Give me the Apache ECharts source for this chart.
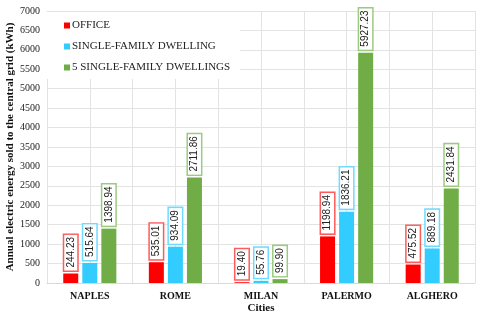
<!DOCTYPE html>
<html>
<head>
<meta charset="utf-8">
<script src="https://cdn.jsdelivr.net/npm/echarts@6/dist/echarts.min.js"></script>
<style>html,body{margin:0;padding:0;background:#fff}#c{width:480px;height:316px}</style>
</head>
<body>
<div id="c"></div>
<script>
var categories = ['NAPLES', 'ROME', 'MILAN', 'PALERMO', 'ALGHERO'];
var seriesNames = ['OFFICE', 'SINGLE-FAMILY DWELLING', '5 SINGLE-FAMILY DWELLINGS'];
var office = [244.23, 535.01, 19.40, 1198.94, 475.52];
var singleFamily = [515.64, 934.09, 55.76, 1836.21, 889.18];
var fiveSingleFamily = [1398.94, 2711.86, 99.90, 5927.23, 2431.84];
var yTicks = [0, 500, 1000, 1500, 2000, 2500, 3000, 3500, 4000, 4500, 5000, 5500, 6000, 6500, 7000];

var colors = ['#FF0000', '#33CCFF', '#70AD47'];
var labelBorders = ['#FF5B5B', '#6FDBFF', '#9CCB80'];
var serif = '"Liberation Serif", "Times New Roman", serif';

function mkSeries(name, data, i) {
  return {
    name: name, type: 'bar', data: data,
    barWidth: 15, barGap: '27%',
    itemStyle: { color: colors[i] },
    label: {
      show: true, position: 'top', rotate: 90, align: 'left', verticalAlign: 'middle',
      distance: 3,
      formatter: function (p) { return p.value.toFixed(2); },
      fontFamily: '"Liberation Sans", Arial, sans-serif', fontSize: 10, color: '#222',
      backgroundColor: '#fff', borderColor: labelBorders[i], borderWidth: 1.5,
      padding: [2, 2, 1, 3]
    }
  };
}

var chart = echarts.init(document.getElementById('c'));
chart.setOption({
  animation: false,
  backgroundColor: '#fff',
  grid: { left: 47, right: 5, top: 11, bottom: 33, outerBoundsMode: 'none', containLabel: false },
  legend: {
    orient: 'vertical', left: 47, top: 12,
    data: seriesNames,
    icon: 'rect', itemWidth: 6, itemHeight: 6, itemGap: 10,
    backgroundColor: '#fff',
    padding: [8, 10, 6, 17],
    textStyle: { fontFamily: serif, fontSize: 11, color: '#222', padding: [0, 0, 0, -3] }
  },
  xAxis: [{
    type: 'category', data: categories,
    axisLine: { lineStyle: { color: '#D9D9D9' } },
    axisTick: { show: false },
    axisLabel: { fontFamily: serif, fontSize: 10, fontWeight: 'bold', color: '#111', margin: 8 },
    splitLine: { show: false },
    name: 'Cities', nameLocation: 'middle', nameGap: 20, nameMoveOverlap: false,
    nameTextStyle: { fontFamily: serif, fontSize: 11, fontWeight: 'bold', color: '#111' }
  }, {
    type: 'value', min: 0, max: 10, interval: 1, position: 'bottom',
    axisLine: { show: false }, axisTick: { show: false }, axisLabel: { show: false },
    splitLine: { show: true, lineStyle: { color: '#E3E3E3', width: 1 } }
  }],
  yAxis: {
    type: 'value', min: yTicks[0], max: yTicks[yTicks.length - 1], interval: 500,
    axisLine: { show: false }, axisTick: { show: false },
    axisLabel: { fontFamily: serif, fontSize: 10, color: '#222', margin: 7,
      formatter: function (v) { return String(v); } },
    splitLine: { lineStyle: { color: '#E3E3E3', width: 1 } },
    name: 'Annual electric energy sold to the central grid (kWh)',
    nameLocation: 'middle', nameGap: 31, nameMoveOverlap: false,
    nameTextStyle: { fontFamily: serif, fontSize: 11, fontWeight: 'bold', color: '#111' }
  },
  series: [
    mkSeries(seriesNames[0], office, 0),
    mkSeries(seriesNames[1], singleFamily, 1),
    mkSeries(seriesNames[2], fiveSingleFamily, 2)
  ]
});
</script>
</body>
</html>
